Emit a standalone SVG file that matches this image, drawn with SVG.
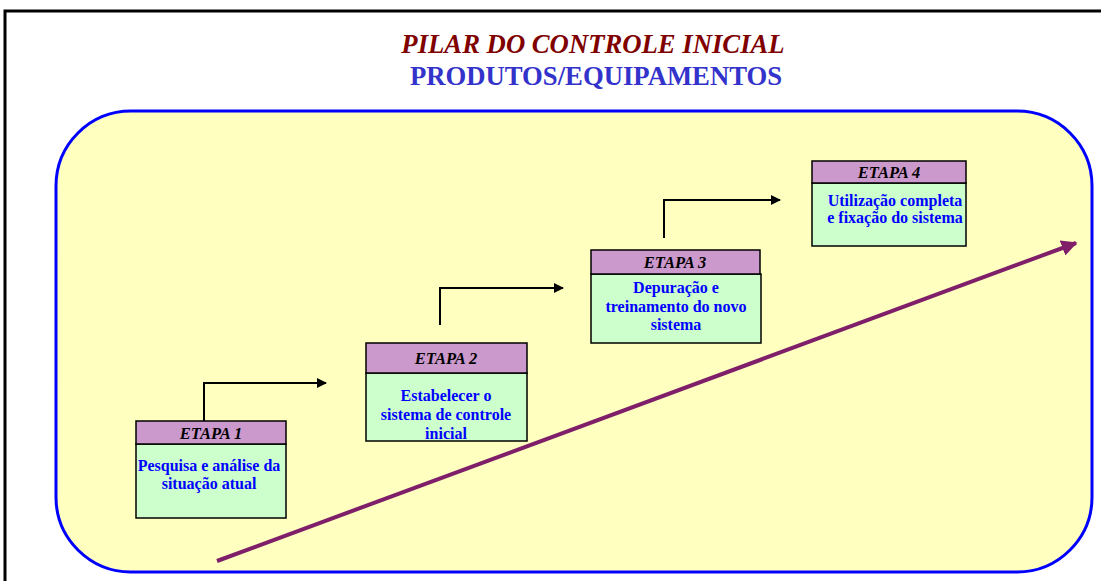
<svg xmlns="http://www.w3.org/2000/svg" width="1101" height="581" viewBox="0 0 1101 581">
<defs>
<style>
.hdr{fill:#cc99cc;stroke:#000;stroke-width:1.5}
.body{fill:#ccffcc;stroke:#000;stroke-width:1.5}
.et{font-family:"Liberation Serif",serif;font-weight:bold;font-style:italic;font-size:16.5px;fill:#000;text-anchor:middle}
.bt{font-family:"Liberation Serif",serif;font-weight:bold;font-size:16px;fill:#0000ff;text-anchor:middle}
.conn{fill:none;stroke:#000;stroke-width:2}
</style>
<marker id="ah" viewBox="0 0 10 10" refX="9" refY="5" markerWidth="5" markerHeight="5" orient="auto" markerUnits="strokeWidth">
<path d="M0,0 L10,5 L0,10 z" fill="#000"/>
</marker>
<marker id="ahp" viewBox="0 0 10 10" refX="9" refY="5" markerWidth="4" markerHeight="4" orient="auto" markerUnits="strokeWidth">
<path d="M0,0 L10,5 L0,10 z" fill="#7f1f6a"/>
</marker>
</defs>
<rect x="0" y="0" width="1101" height="581" fill="#fff"/>
<path d="M5,581 V11 H1101" fill="none" stroke="#000" stroke-width="3"/>
<text x="593" y="53" font-family="'Liberation Serif',serif" font-weight="bold" font-style="italic" font-size="26.7" fill="#800000" text-anchor="middle">PILAR DO CONTROLE INICIAL</text>
<text x="596" y="85" font-family="'Liberation Serif',serif" font-weight="bold" font-size="26.7" fill="#3333cc" text-anchor="middle">PRODUTOS/EQUIPAMENTOS</text>
<rect x="56" y="111" width="1036" height="461" rx="75" ry="75" fill="#ffffc0" stroke="#0000ff" stroke-width="3"/>
<g id="connectors">
<path class="conn" d="M204,421 V383 H326" marker-end="url(#ah)"/>
<path class="conn" d="M440,325 V288 H563" marker-end="url(#ah)"/>
<path class="conn" d="M664,238 V200 H780" marker-end="url(#ah)"/>
<line x1="217" y1="561" x2="1076" y2="243" stroke="#7f1f6a" stroke-width="4" marker-end="url(#ahp)"/>
</g>
<g id="etapa1">
<rect class="body" x="136" y="444" width="150" height="74"/>
<rect class="hdr" x="136" y="421" width="150" height="23"/>
<text class="et" x="211" y="439">ETAPA 1</text>
<text class="bt" x="209" y="471">Pesquisa e análise da</text>
<text class="bt" x="209" y="489">situação atual</text>
</g>
<g id="etapa2">
<rect class="body" x="366" y="373" width="161" height="68"/>
<rect class="hdr" x="366" y="343" width="161" height="30"/>
<text class="et" x="446" y="364">ETAPA 2</text>
<text class="bt" x="446" y="401">Estabelecer o</text>
<text class="bt" x="446" y="420">sistema de controle</text>
<text class="bt" x="446" y="439">inicial</text>
</g>
<g id="etapa3">
<rect class="body" x="591" y="274" width="170" height="69"/>
<rect class="hdr" x="591" y="250" width="169" height="24"/>
<text class="et" x="675" y="268">ETAPA 3</text>
<text class="bt" x="676" y="293">Depuração e</text>
<text class="bt" x="676" y="312">treinamento do novo</text>
<text class="bt" x="676" y="330">sistema</text>
</g>
<g id="etapa4">
<rect class="body" x="812" y="183" width="154" height="63"/>
<rect class="hdr" x="812" y="161" width="154" height="22"/>
<text class="et" x="889" y="178">ETAPA 4</text>
<text class="bt" x="895" y="206">Utilização completa</text>
<text class="bt" x="895" y="223">e fixação do sistema</text>
</g>
</svg>
